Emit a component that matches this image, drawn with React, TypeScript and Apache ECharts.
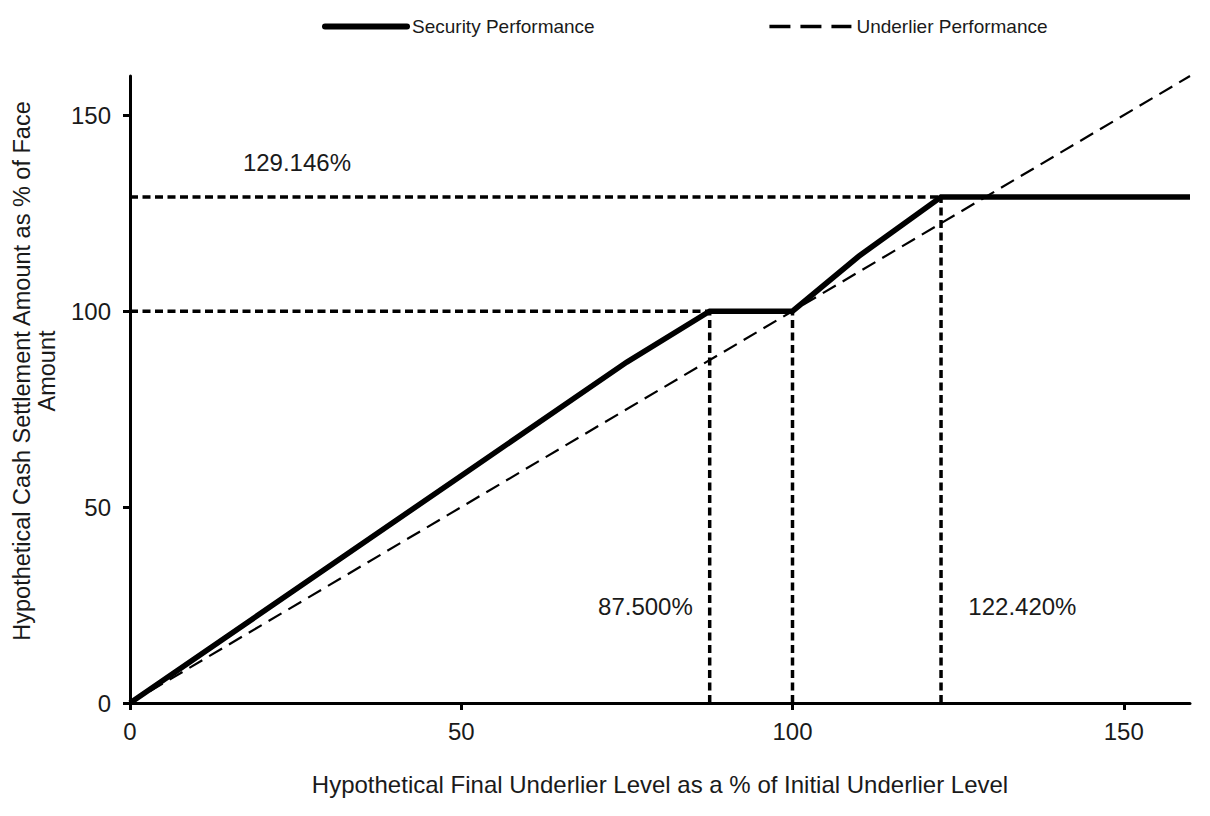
import React, { useEffect, useRef } from "react";
import * as echarts from "echarts";

// ---- data ----
const securityX = [0, 50, 75, 87.5, 100, 110, 122.42, 160];
const securityY = [0, 58, 87, 100, 100, 114, 129.146, 129.146];
const underlierX = [0, 160];
const underlierY = [0, 160];

// reference (guide) segments: [x1, y1, x2, y2]
const refH129 = [0, 129.146, 122.42, 129.146];
const refH100 = [0, 100, 87.5, 100];
const refV875 = [87.5, 0, 87.5, 100];
const refV100 = [100, 0, 100, 100];
const refV122 = [122.42, 0, 122.42, 129.146];
const refSegments = [refH129, refH100, refV875, refV100, refV122];

// annotations
const annX = [25.2, 77.8, 134.7];
const annY = [137.8, 24.5, 24.5];
const annText = ["129.146%", "87.500%", "122.420%"];

const tickValues = [0, 50, 100, 150];
const seriesNames = ["Security Performance", "Underlier Performance"];
const xTitle = "Hypothetical Final Underlier Level as a % of Initial Underlier Level";
const yTitle = "Hypothetical Cash Settlement Amount as % of Face\nAmount";

const FONT = "Liberation Sans, Arial, Helvetica, sans-serif";
const TXT = "#1a1a1a";

export default function App() {
  const ref = useRef<HTMLDivElement>(null);
  useEffect(() => {
    if (!ref.current) return;
    const chart = echarts.init(ref.current, undefined, { renderer: "svg" });

    const zip = (xs: number[], ys: number[]) => xs.map((x, i) => [x, ys[i]]);

    const refSeries = refSegments.map((s, i) => ({
      name: "ref" + i,
      type: "line",
      data: [
        [s[0], s[1]],
        [s[2], s[3]],
      ],
      symbol: "none",
      silent: true,
      z: 2,
      lineStyle: { color: "#000", width: 3.5, type: [8, 4.5] },
    }));

    const option: any = {
      animation: false,
      backgroundColor: "#fff",
      color: ["#000"],
      textStyle: { fontFamily: FONT },
      grid: { left: 130, right: 20, top: 76, bottom: 113, containLabel: false },
      legend: {
        left: 322,
        top: 17,
        padding: 0,
        itemWidth: 82,
        itemHeight: 20,
        itemGap: 173,
        itemStyle: { opacity: 0 },
        textStyle: { fontFamily: FONT, fontSize: 19, color: TXT },
        data: [
          { name: seriesNames[0], itemStyle: { opacity: 0 }, lineStyle: { width: 6, color: "#000", type: "solid", cap: "round" } },
          { name: seriesNames[1], itemStyle: { opacity: 0 }, lineStyle: { width: 3.5, color: "#000", type: [21, 10] } },
        ],
      },
      xAxis: {
        type: "value",
        min: 0,
        max: 160,
        interval: 50,
        name: xTitle,
        nameLocation: "middle",
        nameGap: 69,
        nameTextStyle: { fontFamily: FONT, fontSize: 24, color: TXT },
        splitLine: { show: false },
        axisLine: { show: true, onZero: false, lineStyle: { color: "#000", width: 3 } },
        axisTick: { show: true, inside: false, length: 7, customValues: tickValues, lineStyle: { color: "#000", width: 3 } },
        axisLabel: { customValues: tickValues, margin: 16, fontFamily: FONT, fontSize: 24, color: TXT },
      },
      yAxis: {
        type: "value",
        min: 0,
        max: 160,
        interval: 50,
        splitLine: { show: false },
        axisLine: { show: true, onZero: false, lineStyle: { color: "#000", width: 3 } },
        axisTick: { show: true, inside: false, length: 7, customValues: tickValues, lineStyle: { color: "#000", width: 3 } },
        axisLabel: { customValues: tickValues, margin: 19, fontFamily: FONT, fontSize: 24, color: TXT },
      },
      graphic: [
        {
          type: "text",
          x: 34,
          y: 371,
          rotation: Math.PI / 2,
          style: {
            text: yTitle,
            align: "center",
            verticalAlign: "middle",
            fontFamily: FONT,
            fontSize: 23.5,
            lineHeight: 25,
            fill: TXT,
          },
        },
      ],
      series: [
        ...refSeries,
        {
          name: seriesNames[1],
          type: "line",
          data: zip(underlierX, underlierY),
          symbol: "none",
          z: 3,
          itemStyle: { color: "#000" },
          lineStyle: { color: "#000", width: 2.2, type: [15, 8] },
        },
        {
          name: seriesNames[0],
          type: "line",
          data: zip(securityX, securityY),
          symbol: "none",
          z: 4,
          itemStyle: { color: "#000" },
          lineStyle: { color: "#000", width: 5.5, join: "miter" },
        },
        {
          name: "annotations",
          type: "scatter",
          symbolSize: 0,
          silent: true,
          itemStyle: { color: "#000" },
          data: annX.map((x, i) => ({ value: [x, annY[i]], label: { formatter: annText[i] } })),
          label: {
            show: true,
            position: "inside",
            fontFamily: FONT,
            fontSize: 24,
            color: TXT,
            textBorderWidth: 0,
            opacity: 1,
          },
          z: 5,
        },
      ],
    };
    chart.setOption(option);
    return () => chart.dispose();
  }, []);

  return (
    <div
      ref={ref}
      style={{ position: "fixed", left: 0, top: 0, width: 1210, height: 816, background: "#fff" }}
    />
  );
}
